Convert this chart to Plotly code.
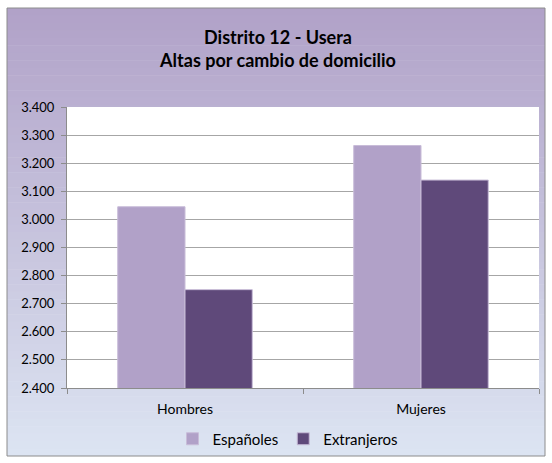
import plotly.graph_objects as go

categorias = ["Hombres", "Mujeres"]
espanoles = [3045, 3263]
extranjeros = [2750, 3140]
ticks_y = [2400, 2500, 2600, 2700, 2800, 2900, 3000, 3100, 3200, 3300, 3400]

font = "Lato, Open Sans, sans-serif"

fig = go.Figure()
fig.add_trace(go.Bar(x=categorias, y=espanoles, name="Españoles",
                     marker=dict(color="#b1a1c8", line=dict(color="#c8bcd8", width=1))))
fig.add_trace(go.Bar(x=categorias, y=extranjeros, name="Extranjeros",
                     marker=dict(color="#5f497a", line=dict(color="#c8bcd8", width=1))))

# plot area in pixels: x 67..539, y 107..388
L, R, T, B = 67, 13, 107, 75
W, H = 552 - L - R, 463 - T - B

def px_x(p):
    return (p - L) / W

def px_y(p):
    return (463 - B - p) / H

# gradient background inside the frame
top = (177, 162, 200)
bot = (220, 228, 242)
fx0, fx1, fy0, fy1 = 7, 545, 8, 456
n = 60
shapes = []
for i in range(n):
    t = i / (n - 1)
    c = tuple(round(top[k] + (bot[k] - top[k]) * t) for k in range(3))
    ya = fy0 + (fy1 - fy0) * i / n
    yb = fy0 + (fy1 - fy0) * (i + 1) / n + 0.5
    shapes.append(dict(type="rect", xref="paper", yref="paper", layer="below",
                       x0=px_x(fx0), x1=px_x(fx1), y0=px_y(ya), y1=px_y(min(yb, fy1)),
                       fillcolor="rgb(%d,%d,%d)" % c, line=dict(width=0)))
shapes.append(dict(type="rect", xref="paper", yref="paper", layer="below",
                   x0=px_x(fx0), x1=px_x(fx1), y0=px_y(fy0), y1=px_y(fy1),
                   fillcolor="rgba(0,0,0,0)", line=dict(color="#8c8c8c", width=1)))
shapes.append(dict(type="rect", xref="x domain", yref="y domain", layer="below",
                   x0=0, x1=1, y0=0, y1=1, fillcolor="white", line=dict(width=0)))

fig.update_layout(
    width=552, height=463,
    margin=dict(l=L, r=R, t=T, b=B, autoexpand=False),
    paper_bgcolor="white",
    plot_bgcolor="rgba(0,0,0,0)",
    separators=",.",
    font=dict(family=font, size=12, color="#000000"),
    title=dict(text="<b>Distrito 12 - Usera<br>Altas por cambio de domicilio</b>",
               x=px_x(278), xref="paper", xanchor="center", y=1 - 44 / 463, yanchor="middle",
               font=dict(family=font, size=18, color="#000000")),
    barmode="group",
    bargap=0.43,
    bargroupgap=0,
    shapes=shapes,
    showlegend=True,
    legend=dict(orientation="h", x=px_x(288), xanchor="center", y=px_y(439), yanchor="middle",
                font=dict(family=font, size=15, color="#000000"),
                bgcolor="rgba(0,0,0,0)", itemwidth=30, traceorder="normal"),
)
fig.update_xaxes(showline=True, linecolor="#8c8c8c", linewidth=1,
                 ticks="outside", tickson="boundaries", ticklen=5, tickcolor="#8c8c8c",
                 ticklabelstandoff=8,
                 tickfont=dict(family=font, size=14, color="#000000"), showgrid=False)
fig.update_yaxes(range=[2400, 3400], tickvals=ticks_y, tickformat=",d",
                 showline=True, linecolor="#8c8c8c", linewidth=1,
                 ticks="outside", ticklen=5, tickcolor="#8c8c8c",
                 ticklabelstandoff=4,
                 showgrid=True, gridcolor="#a6a6a6", gridwidth=1,
                 tickfont=dict(family=font, size=13, color="#000000"), zeroline=False)

fig.write_html("out.html", config={"displayModeBar": False},
               post_script="document.body.style.margin='0';")
